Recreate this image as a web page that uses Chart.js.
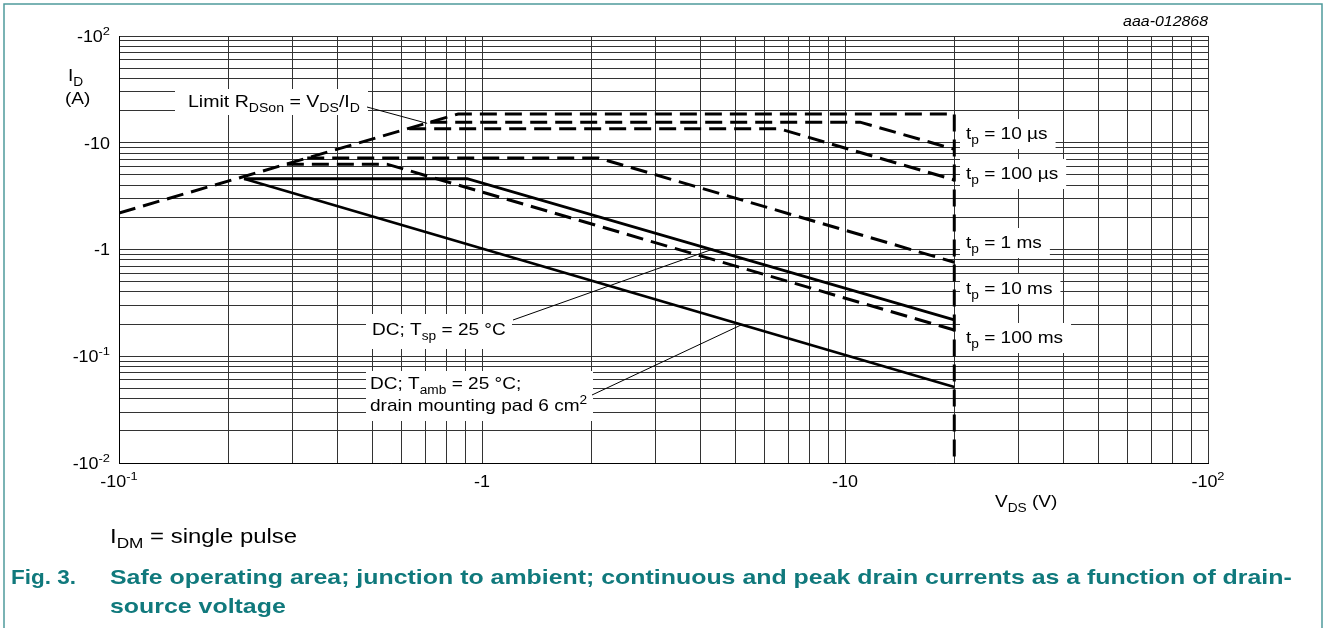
<!DOCTYPE html>
<html>
<head>
<meta charset="utf-8">
<script src="https://cdn.jsdelivr.net/npm/chart.js@4.4.1/dist/chart.umd.min.js"></script>
<style>
  body { margin: 0; background: #fff; }
  #wrap { position: relative; width: 1327px; height: 628px; }
</style>
</head>
<body>
<div id="wrap"><canvas id="soa" width="1327" height="628"></canvas></div>
<script>
// SOA curves, V_DS in volts, I_D in amps (shown negative on the axes)
var limitV   = [0.1, 0.86, 20, 20];
var limitI   = [2.2, 18.6, 18.6, 0.01];
var tp10usV  = [0.72, 11, 20];
var tp10usI  = [15.6, 15.6, 8.7];
var tp100usV = [0.63, 6.6, 20];
var tp100usI = [13.5, 13.5, 4.48];
var tp1msV   = [0.33, 2.09, 20];
var tp1msI   = [7.2, 7.2, 0.76];
var tp100msV = [0.29, 0.547, 20];
var tp100msI = [6.3, 6.3, 0.176];
var dcTspV   = [0.221, 0.91, 20];
var dcTspI   = [4.6, 4.6, 0.219];
var dcAmbV   = [0.221, 20];
var dcAmbI   = [4.6, 0.0515];

// tick labels ("^{..}" = superscript)
var xTickVals = [0.1, 1, 10, 100];
var xTickText = ['-10^{-1}', '-1', '-10', '-10^{2}'];
var yTickVals = [0.01, 0.1, 1, 10, 100];
var yTickText = ['-10^{-2}', '-10^{-1}', '-1', '-10', '-10^{2}'];

var FONT = '"Liberation Sans", Arial, sans-serif';
var TEAL = '#10797c';

function pts(xs, ys) {
    var out = [];
    for (var i = 0; i < xs.length; i++) out.push({x: xs[i], y: ys[i]});
    return out;
}

function logTicks(min, max) {
    var t = [];
    for (var e = Math.round(Math.log10(min)); e < Math.round(Math.log10(max)); e++) {
        for (var k = 1; k <= 9; k++) {
            t.push({value: Number((k * Math.pow(10, e)).toPrecision(3)), major: k === 1});
        }
    }
    t.push({value: max, major: true});
    return t;
}

// split "I_{D} (A)" style markup into parts
function parseRich(s) {
    var parts = [], re = /(_|\^)\{([^}]*)\}/g, last = 0, m;
    while ((m = re.exec(s)) !== null) {
        if (m.index > last) parts.push({t: s.slice(last, m.index), mode: ''});
        parts.push({t: m[2], mode: m[1] === '_' ? 'sub' : 'sup'});
        last = re.lastIndex;
    }
    if (last < s.length) parts.push({t: s.slice(last), mode: ''});
    return parts;
}

function richWidth(ctx, s, size, style) {
    var w = 0;
    parseRich(s).forEach(function(p) {
        var fs = p.mode ? size * 0.72 : size;
        ctx.font = (style || '') + ' ' + fs + 'px ' + FONT;
        w += ctx.measureText(p.t).width;
    });
    return w;
}

// x,cy = anchor and vertical centre of the main text; sx = horizontal stretch
function drawRich(ctx, s, x, cy, size, align, color, style, sx) {
    sx = sx || 1;
    var w = richWidth(ctx, s, size, style) * sx;
    if (align === 'center') x -= w / 2;
    if (align === 'right') x -= w;
    var base = cy + size * 0.36;
    ctx.save();
    ctx.translate(x, 0);
    ctx.scale(sx, 1);
    ctx.fillStyle = color || '#000';
    ctx.textBaseline = 'alphabetic';
    ctx.textAlign = 'left';
    var cx = 0;
    parseRich(s).forEach(function(p) {
        var fs = p.mode ? size * 0.72 : size;
        var dy = p.mode === 'sub' ? size * 0.28 : (p.mode === 'sup' ? -size * 0.42 : 0);
        ctx.font = (style || '') + ' ' + fs + 'px ' + FONT;
        ctx.fillText(p.t, cx, base + dy);
        cx += ctx.measureText(p.t).width;
    });
    ctx.restore();
    return w;
}

function box(ctx, x, y, w, h) {
    ctx.fillStyle = '#fff';
    ctx.fillRect(x, y, w, h);
}

function leader(ctx, x0, y0, x1, y1) {
    ctx.save();
    ctx.strokeStyle = '#000';
    ctx.lineWidth = 1;
    ctx.beginPath();
    ctx.moveTo(x0, y0);
    ctx.lineTo(x1, y1);
    ctx.stroke();
    ctx.restore();
}

var TX = 1.12;   // text in the drawing is a bit wider than plain Arial

var decorations = {
    id: 'decorations',
    beforeDraw: function(chart) {
        var ctx = chart.ctx;
        ctx.save();
        ctx.fillStyle = '#fff';
        ctx.fillRect(0, 0, chart.width, chart.height);
        ctx.restore();
    },
    afterDraw: function(chart) {
        var ctx = chart.ctx, xs = chart.scales.x, ys = chart.scales.y;
        ctx.save();

        // tick labels
        xTickVals.forEach(function(v, i) {
            drawRich(ctx, xTickText[i], xs.getPixelForValue(v), 481, 16, 'center', '#000', '', 1.12);
        });
        yTickVals.forEach(function(v, i) {
            drawRich(ctx, yTickText[i], 110, ys.getPixelForValue(v), 16, 'right', '#000', '', 1.12);
        });

        // axis titles
        drawRich(ctx, 'I_{D}', 68, 75, 17, 'left', '#000', '', TX);
        drawRich(ctx, '(A)', 65, 98, 17, 'left', '#000', '', TX);
        drawRich(ctx, 'V_{DS} (V)', 995, 501, 17, 'left', '#000', '', TX);
        drawRich(ctx, 'aaa-012868', 1208, 21, 15, 'right', '#000', 'italic', 1.06);

        // curve annotations
        var w;
        box(ctx, 175, 89, 193, 26);
        drawRich(ctx, 'Limit R_{DSon} = V_{DS}/I_{D}', 188, 101, 17, 'left', '#000', '', 1.15);
        leader(ctx, 367, 107, xs.getPixelForValue(0.706), ys.getPixelForValue(15.2));

        var tpLabels = ['t_{p} = 10 µs', 't_{p} = 100 µs', 't_{p} = 1 ms', 't_{p} = 10 ms', 't_{p} = 100 ms'];
        var tpY = [133, 173, 242, 288, 337];
        tpLabels.forEach(function(s, i) {
            w = richWidth(ctx, s, 17) * TX;
            box(ctx, 960, tpY[i] - 14, w + 14, 30);
            drawRich(ctx, s, 966, tpY[i], 17, 'left', '#000', '', TX);
        });

        box(ctx, 366, 314, 146, 35);
        drawRich(ctx, 'DC; T_{sp} = 25 °C', 372, 329, 17, 'left', '#000', '', TX);
        leader(ctx, 513, 320, xs.getPixelForValue(4.33), ys.getPixelForValue(1.01));

        box(ctx, 366, 371, 227, 50);
        drawRich(ctx, 'DC; T_{amb} = 25 °C;', 370, 383, 17, 'left', '#000', '', TX);
        drawRich(ctx, 'drain mounting pad 6 cm^{2}', 370, 405, 17, 'left', '#000', '', TX);
        leader(ctx, 592, 395, xs.getPixelForValue(5.2), ys.getPixelForValue(0.198));

        // notes and caption
        drawRich(ctx, 'I_{DM} = single pulse', 110, 535, 21, 'left', '#000', '', 1.14);
        drawRich(ctx, 'Fig. 3.', 11, 576, 21, 'left', TEAL, 'bold', 1.07);
        drawRich(ctx, 'Safe operating area; junction to ambient; continuous and peak drain currents as a function of drain-', 110, 576, 21, 'left', TEAL, 'bold', 1.186);
        drawRich(ctx, 'source voltage', 110, 605, 21, 'left', TEAL, 'bold', 1.186);

        // figure frame
        ctx.strokeStyle = '#4f9a9c';
        ctx.lineWidth = 1.5;
        ctx.beginPath();
        ctx.moveTo(4, 640);
        ctx.lineTo(4, 4);
        ctx.lineTo(1322, 4);
        ctx.lineTo(1322, 640);
        ctx.stroke();
        ctx.restore();
    }
};

function curve(xs, ys, dashed) {
    return {
        data: pts(xs, ys),
        showLine: true,
        borderColor: '#000',
        borderWidth: dashed ? 3 : 2.8,
        borderDash: dashed ? [17, 8] : [],
        pointRadius: 0,
        fill: false,
        tension: 0
    };
}

var gridOpts = {
    color: '#333',
    lineWidth: 1,
    drawTicks: false
};

new Chart(document.getElementById('soa').getContext('2d'), {
    type: 'scatter',
    data: {
        datasets: [
            curve(limitV, limitI, true),
            curve(tp10usV, tp10usI, true),
            curve(tp100usV, tp100usI, true),
            curve(tp1msV, tp1msI, true),
            curve(tp100msV, tp100msI, true),
            curve(dcTspV, dcTspI, false),
            curve(dcAmbV, dcAmbI, false)
        ]
    },
    options: {
        responsive: false,
        animation: false,
        devicePixelRatio: 1,
        layout: { padding: { left: 119, right: 119, top: 36, bottom: 165 } },
        plugins: { legend: { display: false }, tooltip: { enabled: false } },
        scales: {
            x: {
                type: 'logarithmic', min: 0.1, max: 100,
                ticks: { display: false },
                grid: gridOpts,
                border: { color: '#000', width: 1 },
                afterBuildTicks: function(s) { s.ticks = logTicks(0.1, 100); }
            },
            y: {
                type: 'logarithmic', min: 0.01, max: 100,
                ticks: { display: false },
                grid: gridOpts,
                border: { color: '#000', width: 1 },
                afterBuildTicks: function(s) { s.ticks = logTicks(0.01, 100); }
            }
        }
    },
    plugins: [decorations]
});
</script>
</body>
</html>
